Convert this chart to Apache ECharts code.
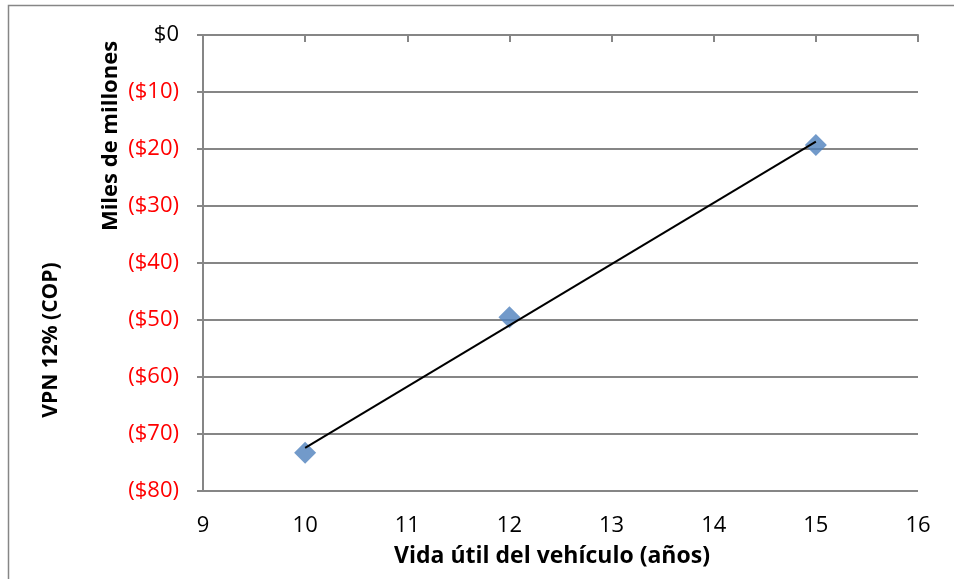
<!DOCTYPE html>
<html>
<head>
<meta charset="utf-8">
<script src="https://cdn.jsdelivr.net/npm/echarts@6/dist/echarts.min.js"></script>
<style>
  html, body { margin: 0; padding: 0; background: #fff; }
  #chart { width: 954px; height: 579px; }
</style>
</head>
<body>
<div id="chart"></div>
<script>
// Vida útil (años) vs VPN al 12% en miles de millones de COP
const vidaUtil = [10, 12, 15];
const vpn = [-73.3, -49.5, -19.3];
const xTicks = [9, 10, 11, 12, 13, 14, 15, 16];
const yTicks = [0, -10, -20, -30, -40, -50, -60, -70, -80];

const FONT = '"Open Sans"';
const GRID_GREY = '#868686';

// Linear trend line (least squares) over the measured points
function linearFit(xs, ys) {
  const n = xs.length;
  const mx = xs.reduce((a, b) => a + b, 0) / n;
  const my = ys.reduce((a, b) => a + b, 0) / n;
  let sxy = 0, sxx = 0;
  for (let i = 0; i < n; i++) {
    sxy += (xs[i] - mx) * (ys[i] - my);
    sxx += (xs[i] - mx) * (xs[i] - mx);
  }
  const m = sxy / sxx;
  return x => my + m * (x - mx);
}
const fit = linearFit(vidaUtil, vpn);
const xMinData = Math.min(...vidaUtil), xMaxData = Math.max(...vidaUtil);
const trend = [[xMinData, fit(xMinData)], [xMaxData, fit(xMaxData)]];

function moneyLabel(v) {
  if (v === 0) return '{k|$0}';
  return '{r|($' + Math.abs(v) + ')}';
}

const chart = echarts.init(document.getElementById('chart'));
chart.setOption({
  animation: false,
  backgroundColor: '#fff',
  grid: { left: 203, top: 35, right: 36, bottom: 88 },
  xAxis: [
    {
      // labels along the bottom
      type: 'value', position: 'bottom',
      min: xTicks[0], max: xTicks[xTicks.length - 1], interval: 1,
      axisLine: { show: false },
      axisTick: { show: false },
      splitLine: { show: false },
      axisLabel: { margin: 24, color: '#000', fontFamily: FONT, fontSize: 22 }
    },
    {
      // axis line crossing at $0 with inner ticks
      type: 'value', position: 'top',
      min: xTicks[0], max: xTicks[xTicks.length - 1], interval: 1,
      axisLine: { show: true, onZero: false, lineStyle: { color: GRID_GREY, width: 2 } },
      axisTick: { show: true, inside: true, length: 7, lineStyle: { color: GRID_GREY, width: 2 } },
      axisLabel: { show: false },
      splitLine: { show: false }
    }
  ],
  yAxis: {
    type: 'value',
    min: yTicks[yTicks.length - 1], max: yTicks[0], interval: 10,
    axisLine: { show: true, onZero: false, lineStyle: { color: GRID_GREY, width: 2 } },
    axisTick: { show: true, length: 6, lineStyle: { color: GRID_GREY, width: 2 } },
    splitLine: { show: true, lineStyle: { color: GRID_GREY, width: 2 } },
    axisLabel: {
      margin: 24,
      formatter: moneyLabel,
      rich: {
        k: { color: '#000', fontFamily: FONT, fontSize: 22 },
        r: { color: '#ff0000', fontFamily: FONT, fontSize: 22 }
      }
    }
  },
  series: [
    {
      type: 'scatter',
      data: vidaUtil.map((x, i) => [x, vpn[i]]),
      symbol: 'diamond',
      symbolSize: 22,
      itemStyle: { color: '#4f81bd' },
      z: 2
    },
    {
      type: 'line',
      data: trend,
      symbol: 'none',
      lineStyle: { color: '#000', width: 2 },
      z: 3
    }
  ],
  graphic: [
    {
      type: 'rect', silent: true,
      shape: { x: 8.5, y: 5.5, width: 960, height: 600 },
      style: { fill: 'none', stroke: GRID_GREY, lineWidth: 1.5 }
    },
    {
      type: 'text', x: 552, y: 556,
      style: {
        text: 'Vida útil del vehículo (años)', fill: '#000',
        font: 'bold 23px ' + FONT, align: 'center', verticalAlign: 'middle'
      }
    },
    {
      type: 'text', x: 51, y: 340, rotation: Math.PI / 2,
      style: {
        text: 'VPN 12% (COP)', fill: '#000',
        font: 'bold 21px ' + FONT, align: 'center', verticalAlign: 'middle'
      }
    },
    {
      type: 'text', x: 111, y: 136, rotation: Math.PI / 2,
      style: {
        text: 'Miles de millones', fill: '#000',
        font: 'bold 22px ' + FONT, align: 'center', verticalAlign: 'middle'
      }
    }
  ]
});
</script>
</body>
</html>
